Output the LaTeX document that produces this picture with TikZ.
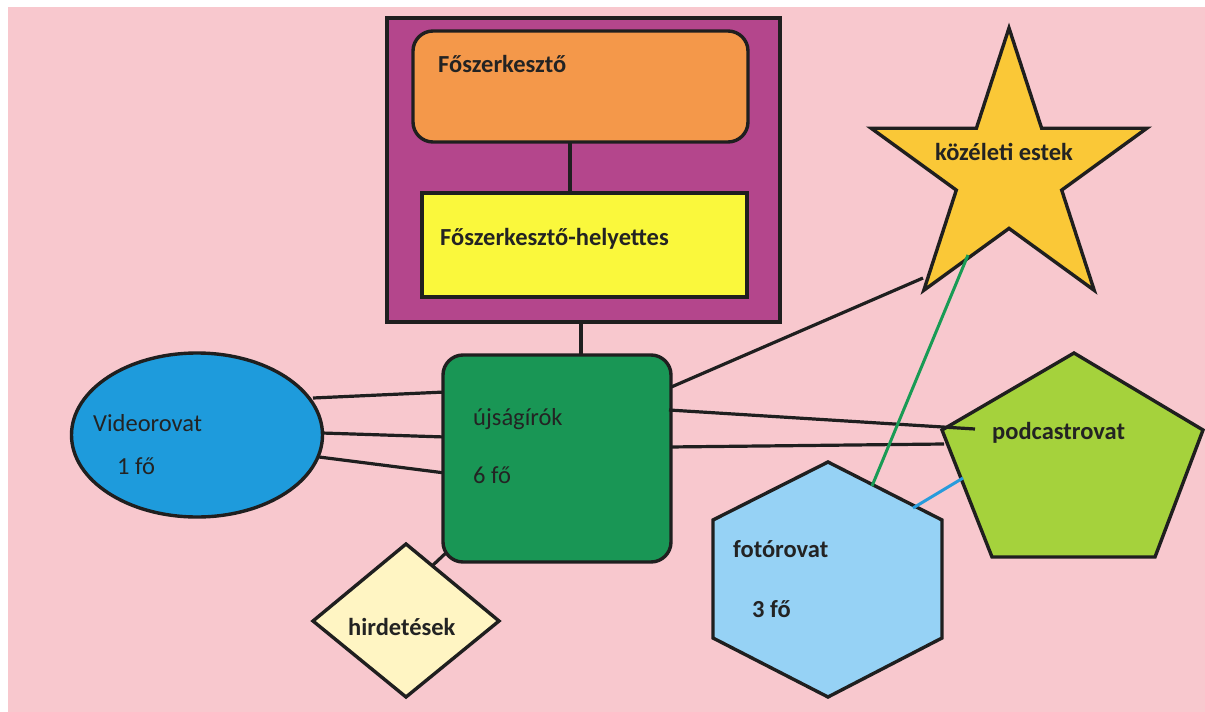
\documentclass[tikz,border=0pt]{standalone}
\usepackage{fontspec}
\setmainfont{Carlito}
\definecolor{bgpink}{RGB}{248,200,206}
\definecolor{purplebox}{RGB}{180,70,140}
\definecolor{orangebox}{RGB}{244,152,74}
\definecolor{yellowbox}{RGB}{250,248,60}
\definecolor{greenbox}{RGB}{25,150,85}
\definecolor{blueell}{RGB}{30,155,220}
\definecolor{diamondfill}{RGB}{255,245,195}
\definecolor{starfill}{RGB}{250,200,55}
\definecolor{pentfill}{RGB}{165,210,60}
\definecolor{hexfill}{RGB}{150,210,245}
\definecolor{greenline}{RGB}{25,155,85}
\definecolor{blueline}{RGB}{40,155,220}
\definecolor{txtdark}{RGB}{35,35,35}
\begin{document}
\begin{tikzpicture}[x=1pt,y=-1pt,
  outl/.style={draw=black!88,line width=3.4pt,line join=miter},
  conn/.style={draw=black!88,line width=3.2pt},
  lbl/.style={anchor=base west,inner sep=0pt,font=\fontsize{24.5}{28}\selectfont\bfseries,text=txtdark},
  lblreg/.style={anchor=base west,inner sep=0pt,font=\fontsize{24.5}{28}\selectfont,text=txtdark}]
\useasboundingbox (0,0) rectangle (1205,712);
\fill[white] (0,0) rectangle (1205,712);
\fill[bgpink] (8,7) rectangle (1205,712);

% top purple block
\path[outl,fill=purplebox] (387,18) rectangle (780,322);
\path[outl,fill=orangebox,rounded corners=20pt] (413,31) rectangle (748,142);
\path[outl,fill=yellowbox] (422,193) rectangle (747,297);
\coordinate (fsB) at (570,142);
\coordinate (fhT) at (570,193);
\draw[conn] (fsB) -- (fhT);
\node[lbl] (fosz) at (438,72) {Főszerkesztő};
\node[lbl] (fohely) at (440,245) {Főszerkesztő-helyettes};

% connector end points
\coordinate (purpB) at (581,322);
\coordinate (grT) at (581,355);
\coordinate (ellA) at (313,398);
\coordinate (grA) at (445,392);
\coordinate (ellB) at (322,433);
\coordinate (grB) at (445,437);
\coordinate (ellC) at (319,457);
\coordinate (grC) at (445,473);
\coordinate (grD) at (669,388);
\coordinate (starA) at (923,278);
\coordinate (grE) at (669,410);
\coordinate (pentA) at (975,429);
\coordinate (grF) at (669,447);
\coordinate (pentB) at (944,444);
\coordinate (grG) at (448,551);
\coordinate (diaA) at (432,566);
\coordinate (starB) at (968,255);
\coordinate (hexA) at (872,486);
\coordinate (hexB) at (913,508);
\coordinate (pentC) at (963,478);

\draw[conn] (purpB) -- (grT);
\draw[conn] (ellA) -- (grA);
\draw[conn] (ellB) -- (grB);
\draw[conn] (ellC) -- (grC);
\draw[conn] (grD) -- (starA);
\draw[conn] (grF) -- (pentB);
\draw[conn] (grG) -- (diaA);

% ellipse
\path[outl,fill=blueell] (197,435) ellipse [x radius=125.5, y radius=82];
\node[lblreg] (video) at (93,431) {Videorovat};
\node[lblreg] (video1) at (117,474) {1 fő};

% green box
\path[outl,fill=greenbox,rounded corners=20pt] (443,355) rectangle (671,562);
\node[lblreg] (ujs) at (473,425) {újságírók};
\node[lblreg] (ujs6) at (473,483) {6 fő};

% diamond
\path[outl,fill=diamondfill] (313,621) -- (406,544) -- (499,621) -- (406,697) -- cycle;
\node[lbl] (hird) at (348,635) {hirdetések};

% star
\path[outl,fill=starfill] (1009,28) -- (976.4,128.2) -- (871.1,128.2) -- (956.3,190.1)
  -- (923.8,290.3) -- (1009,228.4) -- (1094.2,290.3) -- (1061.7,190.1)
  -- (1146.9,128.2) -- (1041.6,128.2) -- cycle;
\node[lbl] (kozel) at (935,160) {közéleti estek};

% pentagon
\path[outl,fill=pentfill] (1074,353) -- (1203,430) -- (1155,557) -- (992,557) -- (942,430) -- cycle;
\node[lbl] (podc) at (992,439) {podcastrovat};

% hexagon
\path[outl,fill=hexfill] (828,462) -- (942,520) -- (942,638) -- (828,697) -- (713,638) -- (713,520) -- cycle;
\node[lbl] (foto) at (733,557) {fotórovat};
\node[lbl] (foto3) at (752,617) {3 fő};

% connectors drawn over shapes
\draw[conn] (grE) -- (pentA);
\draw[draw=greenline,line width=3pt] (starB) -- (hexA);
\draw[draw=blueline,line width=3pt] (hexB) -- (pentC);
\end{tikzpicture}
\end{document}
